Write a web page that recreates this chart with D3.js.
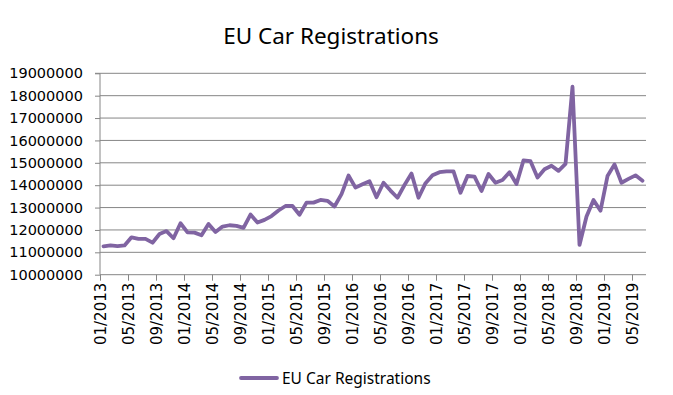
<!DOCTYPE html>
<html lang="en">
<head>
    <meta charset="UTF-8">
    <title>EU Car Registrations</title>
    <style>
        body { margin: 0; background: #fff; }
    </style>
</head>
<body>
    <script src="https://cdn.jsdelivr.net/npm/d3@7"></script>
    <script>
        // months 01/2013 .. 06/2019
        const months = [
            "01/2013","02/2013","03/2013","04/2013","05/2013","06/2013","07/2013","08/2013","09/2013","10/2013","11/2013","12/2013",
            "01/2014","02/2014","03/2014","04/2014","05/2014","06/2014","07/2014","08/2014","09/2014","10/2014","11/2014","12/2014",
            "01/2015","02/2015","03/2015","04/2015","05/2015","06/2015","07/2015","08/2015","09/2015","10/2015","11/2015","12/2015",
            "01/2016","02/2016","03/2016","04/2016","05/2016","06/2016","07/2016","08/2016","09/2016","10/2016","11/2016","12/2016",
            "01/2017","02/2017","03/2017","04/2017","05/2017","06/2017","07/2017","08/2017","09/2017","10/2017","11/2017","12/2017",
            "01/2018","02/2018","03/2018","04/2018","05/2018","06/2018","07/2018","08/2018","09/2018","10/2018","11/2018","12/2018",
            "01/2019","02/2019","03/2019","04/2019","05/2019","06/2019"
        ];
        const registrations = [
            11270000, 11310000, 11280000, 11310000, 11670000, 11600000, 11600000, 11430000, 11820000, 11950000, 11630000, 12300000,
            11890000, 11880000, 11760000, 12270000, 11910000, 12150000, 12210000, 12180000, 12090000, 12690000, 12330000, 12450000,
            12620000, 12870000, 13070000, 13070000, 12680000, 13220000, 13220000, 13340000, 13300000, 13050000, 13600000, 14430000,
            13890000, 14040000, 14180000, 13460000, 14110000, 13760000, 13440000, 14010000, 14520000, 13440000, 14090000, 14440000,
            14580000, 14620000, 14620000, 13660000, 14410000, 14380000, 13740000, 14500000, 14110000, 14230000, 14580000, 14050000,
            15110000, 15070000, 14340000, 14710000, 14870000, 14640000, 14950000, 18400000, 11330000, 12600000, 13340000, 12860000,
            14410000, 14930000, 14110000, 14280000, 14440000, 14200000
        ];
        const yTicks = [10000000, 11000000, 12000000, 13000000, 14000000, 15000000, 16000000, 17000000, 18000000, 19000000];
        const xTickLabels = ["01/2013","05/2013","09/2013","01/2014","05/2014","09/2014","01/2015","05/2015","09/2015","01/2016",
            "05/2016","09/2016","01/2017","05/2017","09/2017","01/2018","05/2018","09/2018","01/2019","05/2019"];
        const seriesName = "EU Car Registrations";

        const largeur = 673, hauteur = 395;
        const gauche = 100, droite = 646, haut = 73.3, bas = 274.7;
        const purple = "#8064a2", grey = "#868686";
        const police = "'DejaVu Sans', sans-serif";

        const svg = d3.select("body").append("svg")
            .attr("width", largeur)
            .attr("height", hauteur);

        // titre
        svg.append("text")
            .attr("x", 331)
            .attr("y", 44)
            .attr("text-anchor", "middle")
            .attr("font-family", "'Noto Sans', sans-serif")
            .style("font-size", "22.5px")
            .style("fill", "#000")
            .text("EU Car Registrations");

        // echelles
        const xScale = d3.scaleLinear()
            .domain([0, months.length])
            .range([gauche, droite]);
        const yScale = d3.scaleLinear()
            .domain([10000000, 19000000])
            .range([bas, haut]);

        // grille
        svg.append("g").selectAll("line")
            .data(yTicks.slice(1))
            .join("line")
                .attr("x1", gauche)
                .attr("x2", droite)
                .attr("y1", d => yScale(d))
                .attr("y2", d => yScale(d))
                .attr("stroke", grey)
                .attr("stroke-width", 1);

        // axe Y
        const axeY = svg.append("g")
            .attr("transform", `translate(${gauche},0)`)
            .call(d3.axisLeft(yScale).tickValues(yTicks).tickSize(5).tickPadding(12).tickFormat(d => String(d)));
        axeY.select(".domain").attr("stroke", grey).attr("d", `M-5,${haut}H0V${bas}`);
        axeY.selectAll(".tick line").attr("stroke", grey);
        axeY.selectAll("text")
            .attr("font-family", police)
            .style("font-size", "14.5px")
            .attr("fill", "#000");

        // axe X
        const tickIdx = xTickLabels.map(l => months.indexOf(l));
        const axeX = svg.append("g")
            .attr("transform", `translate(0,${bas})`)
            .call(d3.axisBottom(xScale).tickValues(tickIdx).tickSize(6).tickFormat(i => months[i]));
        axeX.select(".domain").attr("stroke", grey).attr("d", `M${gauche},0H${droite}`);
        axeX.selectAll(".tick line").attr("stroke", grey);
        axeX.selectAll("text")
            .attr("font-family", police)
            .style("font-size", "15px")
            .attr("fill", "#000")
            .attr("transform", "rotate(-90)")
            .attr("x", -8)
            .attr("y", 0)
            .attr("dy", "0.35em")
            .style("text-anchor", "end");

        // ligne
        svg.append("path").datum(registrations)
            .attr("fill", "none")
            .attr("stroke", purple)
            .attr("stroke-width", 3.8)
            .attr("stroke-linejoin", "round")
            .attr("stroke-linecap", "round")
            .attr("d", d3.line()
                .x((d, i) => xScale(i + 0.5))
                .y(d => yScale(d)));

        // legende
        const legende = svg.append("g");
        legende.append("line")
            .attr("x1", 241).attr("x2", 277)
            .attr("y1", 378).attr("y2", 378)
            .attr("stroke", purple)
            .attr("stroke-width", 3.8)
            .attr("stroke-linecap", "round");
        legende.append("text")
            .attr("x", 282)
            .attr("y", 384)
            .attr("font-family", "'Noto Sans', sans-serif")
            .style("font-size", "15.5px")
            .style("fill", "#000")
            .text(seriesName);
    </script>
</body>
</html>
